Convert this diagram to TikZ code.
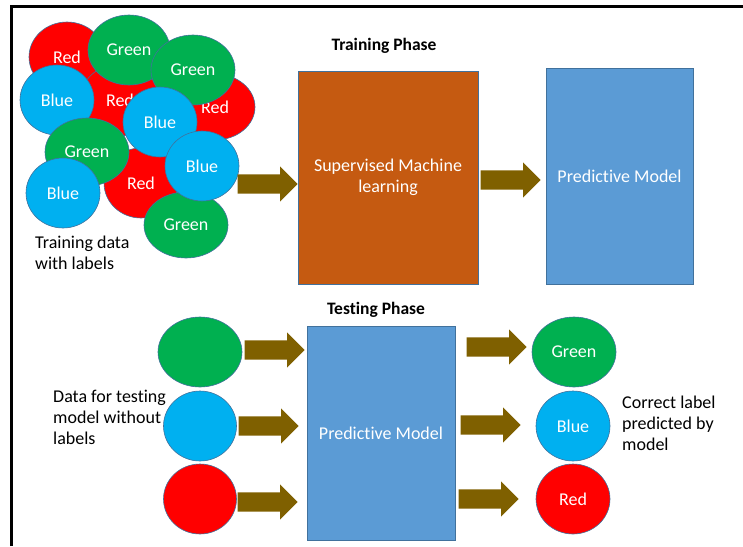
\documentclass[tikz,border=0pt]{standalone}
\usepackage{fontspec}
\setmainfont{Carlito}[Ligatures=NoCommon]
\usetikzlibrary{shapes.geometric,shapes.arrows}
\definecolor{cred}{HTML}{FF0000}
\definecolor{cgreen}{HTML}{00B050}
\definecolor{cblue}{HTML}{00B0F0}
\definecolor{boxbrown}{HTML}{C55A11}
\definecolor{boxblue}{HTML}{5B9BD5}
\definecolor{edgec}{HTML}{41719C}
\definecolor{arrowc}{HTML}{7F6000}
\tikzset{
  blob/.style={ellipse, draw=edgec, line width=0.6pt, inner sep=0pt, text=white},
  sz/.style 2 args={minimum width=#1, minimum height=#2},
  redblob/.style={blob, fill=cred},
  greenblob/.style={blob, fill=cgreen},
  blueblob/.style={blob, fill=cblue},
  stagebox/.style={rectangle, draw=edgec, line width=0.6pt, inner sep=0pt, text=white, align=center},
  blockarrow/.style={single arrow, fill=arrowc, draw=none, anchor=tip,
    inner xsep=0pt, inner ysep=9.5pt, single arrow head extend=8pt,
    single arrow tip angle=90, minimum height=60pt},
  caption/.style={inner sep=0pt, align=left, anchor=west, text=black},
  phase/.style={inner sep=0pt, font=\fontsize{17.5}{21}\selectfont\bfseries}
}
\begin{document}
\begin{tikzpicture}[x=1pt, y=-1pt, font=\fontsize{18}{21}\selectfont]
\useasboundingbox (0,0) rectangle (743,546);

% frame
\draw[line width=2.5pt] (11.3,546) -- (11.3,6.5) -- (743,6.5);

% training data cluster (drawn back to front)
\node[redblob, sz={76pt}{70pt}]   (r1) at (67,57)   {Red};
\node[redblob, sz={80pt}{72pt}]   (r2) at (120,100) {Red};
\node[redblob, sz={80pt}{66pt}]   (r3) at (215,107) {Red};
\node[greenblob, sz={82pt}{70pt}] (g1) at (129,50)  {Green};
\node[greenblob, sz={84pt}{70pt}] (g2) at (193,70)  {Green};
\node[blueblob, sz={74pt}{70pt}]  (b1) at (57,100)  {Blue};
\node[redblob, sz={74pt}{70pt}]   (r4) at (141,183) {Red};
\node[greenblob, sz={84pt}{68pt}] (g3) at (87,152)  {Green};
\node[blueblob, sz={74pt}{70pt}]  (b2) at (160,122) {Blue};
\node[blueblob, sz={74pt}{70pt}]  (b3) at (63,193)  {Blue};
\node[greenblob, sz={84pt}{66pt}] (g4) at (186,225) {Green};
\node[blueblob, sz={74pt}{70pt}]  (b4) at (202,166) {Blue};

\node[caption] (traindata) at (35,252.5) {Training data\\with labels};

% training phase
\node[phase] (trainphase) at (384,46) {Training Phase};
\node[stagebox, fill=boxbrown, sz={180pt}{213pt}] (sml) at (388,177.5) {Supervised Machine\\learning};
\node[stagebox, fill=boxblue, sz={147pt}{216pt}] (pm1) at (619.5,176) {Predictive Model};

\coordinate (t1) at (298,184);
\coordinate (t2) at (541,180);
\node[blockarrow] (a1) at (t1) {};
\node[blockarrow] (a2) at (t2) {};

% testing phase
\node[phase] (testphase) at (376,310) {Testing Phase};
\node[stagebox, fill=boxblue, sz={148pt}{214pt}] (pm2) at (381,433) {Predictive Model};

\node[greenblob, sz={84pt}{70pt}] (ig) at (200,352) {};
\node[blueblob, sz={73pt}{70pt}]  (ib) at (200,426) {};
\node[redblob, sz={73pt}{70pt}]   (ir) at (200,499) {};

\node[greenblob, sz={84pt}{70pt}] (og) at (574,352) {Green};
\node[blueblob, sz={74pt}{70pt}]  (ob) at (573,426) {Blue};
\node[redblob, sz={74pt}{70pt}]   (or) at (573,499) {Red};

\coordinate (i1) at (305,350);
\coordinate (i2) at (299,426);
\coordinate (i3) at (298,502);
\coordinate (o1) at (527,347);
\coordinate (o2) at (521,425);
\coordinate (o3) at (519,499);
\node[blockarrow] (ia1) at (i1) {};
\node[blockarrow] (ia2) at (i2) {};
\node[blockarrow] (ia3) at (i3) {};
\node[blockarrow] (oa1) at (o1) {};
\node[blockarrow] (oa2) at (o2) {};
\node[blockarrow] (oa3) at (o3) {};

\node[caption] (testdata) at (53,417) {Data for testing\\model without\\labels};
\node[caption] (result) at (622,423.5) {Correct label\\predicted by\\model};
\end{tikzpicture}
\end{document}
